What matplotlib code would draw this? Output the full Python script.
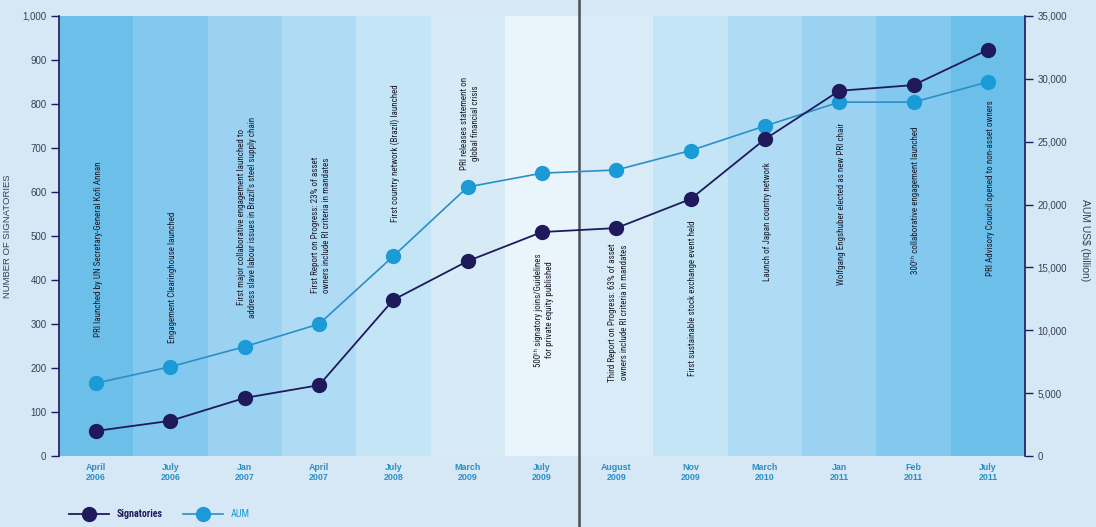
import numpy as np
import matplotlib
matplotlib.use("Agg")
import matplotlib.pyplot as plt
from matplotlib.lines import Line2D
from matplotlib.ticker import FuncFormatter
from matplotlib import font_manager
from matplotlib.font_manager import FontProperties
from matplotlib.textpath import TextToPath

## data
periods = ["April\n2006", "July\n2006", "Jan\n2007", "April\n2007", "July\n2008",
           "March\n2009", "July\n2009", "August\n2009", "Nov\n2009", "March\n2010",
           "Jan\n2011", "Feb\n2011", "July\n2011"]
signatories = [57, 80, 132, 161, 355, 443, 509, 518, 584, 720, 830, 843, 923]
aum = [5800, 7100, 8700, 10500, 15900, 21400, 22500, 22750, 24300, 26250, 28150, 28150, 29750]
events = [
    "PRI launched by UN Secretary-General Kofi Annan",
    "Engagement Clearinghouse launched",
    "First major collaborative engagement launched to\naddress slave labour issues in Brazil's steel supply chain",
    "First Report on Progress: 23% of asset\nowners include RI criteria in mandates",
    "First country network (Brazil) launched",
    "PRI releases statement on\nglobal financial crisis",
    "500\u1d57\u02b0 signatory joins/Guidelines\nfor private equity published",
    "Third Report on Progress: 63% of asset\nowners include RI criteria in mandates",
    "First sustainable stock exchange event held",
    "Launch of Japan country network",
    "Wolfgang Engshuber elected as new PRI chair",
    "300\u1d57\u02b0 collaborative engagement launched",
    "PRI Advisory Council opened to non-asset owners",
]

# layout of the event notes (left axis units, bottom or top anchor)
note_y = [270, 257, 314, 370, 532, 650, 461, 484, 536, 668, 757, 748, 809]
note_va = ["bottom"] * 6 + ["top"] * 7

band_colors = ["#6bbfe9", "#83c8ee", "#9bd2f1", "#afdcf4", "#c3e5f6", "#d7ebf7", "#e9f4fb",
               "#d8ebf7", "#c3e5f6", "#afdcf4", "#9bd2f1", "#83c8ee", "#6bbfe9"]
bg = "#d6e8f5"
navy = "#1e1a5c"
blue = "#1a9ad6"
blue_line = "#2b8fc4"
tick_col = "#3a3f5c"


def pick_narrow():
    ## look for a condensed face, the original uses a narrow font
    prefs = ["Liberation Sans Narrow", "Roboto Condensed", "Open Sans Condensed",
             "Noto Sans", "Open Sans", "Roboto", "DejaVu Sans", "Lato", "Inter"]
    for name in prefs:
        for f in font_manager.fontManager.ttflist:
            if f.name == name and f.style == "normal" and \
                    f.stretch in ("condensed", "semi-condensed", "extra-condensed"):
                return [name, "DejaVu Sans"], f.stretch
    return ["Liberation Sans", "DejaVu Sans"], "normal"


note_font, note_stretch = pick_narrow()
# size the notes so the first one is about 175 px long, like the reference
w, h, d = TextToPath().get_text_width_height_descent(
    events[0], FontProperties(family=note_font, stretch=note_stretch, size=10), ismath=False)
note_size = min(8.5, 10 * (175 * 72 / 100) / w)
tick_font = ["Liberation Sans", "DejaVu Sans"]

fig = plt.figure(figsize=(10.96, 5.27), dpi=100)
fig.patch.set_facecolor(bg)
ax = fig.add_axes([59/1096, 1 - 456/527, 966/1096, 440/527])
ax2 = ax.twinx()
ax.set_zorder(ax2.get_zorder() + 1)
ax.patch.set_visible(False)
ax2.patch.set_facecolor(bg)

x = np.arange(len(periods))
for i in x:
    ax2.axvspan(i - 0.5, i + 0.5, color=band_colors[i], lw=0, zorder=0)

ax.set_xlim(-0.5, len(periods) - 0.5)
ax.set_ylim(0, 1000)
ax2.set_ylim(0, 35000)

# dividing line through whole figure
ax.axvline(6.5, ymin=-0.17, ymax=1.04, color="#4d4d55", lw=1.8, clip_on=False, zorder=1)

aum_scaled = [v * 1000 / 35000 for v in aum]  # AUM drawn on the left axis scale
ax.plot(x, aum_scaled, color=blue_line, lw=1.2,
        marker="o", ms=10, mfc=blue, mec=blue, zorder=3)
ax.plot(x, signatories, color=navy, lw=1.3, marker="o", ms=10, mfc=navy, mec=navy, zorder=4)

for i, txt in enumerate(events):
    ax.text(i + 0.03, note_y[i], txt, rotation=90, ha="center", va=note_va[i],
            multialignment="center", fontsize=note_size, family=note_font,
            fontstretch=note_stretch, color="#1b1b2a", linespacing=1.3, zorder=5)

ax.set_xticks(x)
ax.set_xticklabels(periods, fontsize=6.4, fontweight="bold", color=blue_line,
                   family=tick_font, linespacing=1.1)
ax.tick_params(axis="x", length=0, pad=5)

ax.set_yticks(np.arange(0, 1001, 100))
ax2.set_yticks(np.arange(0, 35001, 5000))
fmt = FuncFormatter(lambda v, p: "{:,.0f}".format(v))
ax.yaxis.set_major_formatter(fmt)
ax2.yaxis.set_major_formatter(fmt)
for a in (ax, ax2):
    a.tick_params(axis="y", length=6, width=1, color=navy, labelsize=7,
                  labelcolor=tick_col, pad=3)
    for lab in a.get_yticklabels():
        lab.set_family(tick_font)
    for s in a.spines.values():
        s.set_visible(False)
ax.spines["left"].set_visible(True)
ax.spines["left"].set_color(navy)
ax.spines["left"].set_linewidth(1.2)
ax2.spines["right"].set_visible(True)
ax2.spines["right"].set_color(navy)
ax2.spines["right"].set_linewidth(1.2)

fig.text(8/1096, 1 - 236/527, "NUMBER OF SIGNATORIES", rotation=90, ha="center", va="center",
         fontsize=6.8, color=tick_col, family=tick_font)
fig.text(1085/1096, 1 - 240/527, "AUM US$ (billion)", rotation=270, ha="center", va="center",
         fontsize=7.5, color=tick_col, family=tick_font)

handles = [Line2D([], [], color=navy, lw=1.3, marker="o", ms=10, mfc=navy, mec=navy),
           Line2D([], [], color=blue_line, lw=1.2, marker="o", ms=10, mfc=blue, mec=blue)]
leg = fig.legend(handles, ["Signatories", "AUM"], loc="center left",
                 bbox_to_anchor=(60/1096, 1 - 514/527), ncol=2, frameon=False,
                 handlelength=4.0, columnspacing=2.0, handletextpad=0.8,
                 prop=FontProperties(family=note_font, stretch=note_stretch, size=7.2))
leg.get_texts()[0].set_color(navy)
leg.get_texts()[0].set_fontweight("bold")
leg.get_texts()[1].set_color(blue)

fig.savefig("out.png", dpi=100, facecolor=bg)
